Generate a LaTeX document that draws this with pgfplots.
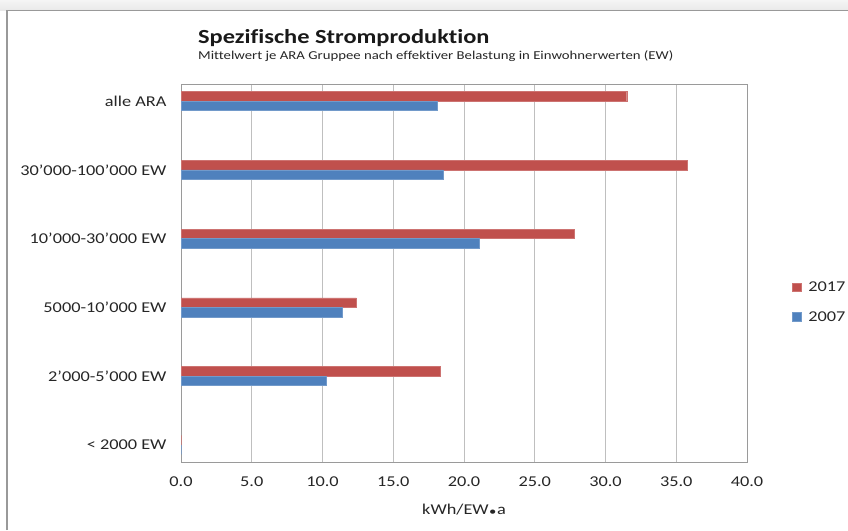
\documentclass[border=0pt]{standalone}
\usepackage{fontspec}
\setmainfont{Carlito}[FakeStretch=1.22,Ligatures=NoCommon]
\usepackage{pgfplots}
\pgfplotsset{compat=1.18}
\definecolor{exred}{HTML}{C0504D}
\definecolor{exblue}{HTML}{4F81BD}
\definecolor{gridg}{HTML}{BFBFBF}
\definecolor{axg}{HTML}{9A9A9A}
\begin{document}
\begin{tikzpicture}[x=1pt,y=1pt]
\path[use as bounding box] (0,0) rectangle (848,530);
\shade[top color=gray!8,bottom color=gray!18] (0,519) rectangle (848,530);
\draw[gray!80,line width=1.2pt] (7,0) -- (7,519.5) -- (848,519.5);
\node[anchor=base west,inner sep=0,font=\bfseries\fontsize{20}{23}\selectfont,text=black!90] at (198,486) {Spezifische Stromproduktion};
\node[anchor=base west,inner sep=0,font=\fontsize{12.1}{14}\selectfont,text=black!85] at (198,470) {Mittelwert je ARA Gruppee nach effektiver Belastung in Einwohnerwerten (EW)};
\begin{axis}[
  at={(181pt,68pt)}, anchor=south west,
  width=566pt, height=378pt, scale only axis,
  xmin=0, xmax=40, ymin=-0.25, ymax=5.25,
  xtick={0,5,...,40},
  xticklabel={\pgfmathprintnumber[fixed,fixed zerofill,precision=1]{\tick}},
  /pgf/number format/assume math mode=true,
  ytick={0,1,2,3,4,5},
  yticklabels={{< 2000 EW},{2'000-5'000 EW},{5000-10'000 EW},{10'000-30'000 EW},{30'000-100'000 EW},{alle ARA}},
  major tick length=0pt,
  xmajorgrids, grid style={gridg,line width=0.9pt},
  axis line style={axg,line width=0.9pt},
  tick label style={font=\fontsize{15}{17}\selectfont,text=black!85},
  xticklabel style={yshift=-11pt},
  yticklabel style={xshift=-11pt},
  xlabel={kWh/EW\kern0.5pt\raisebox{-0.5pt}{\scalebox{0.8}{•}}\kern0.5pt a},
  xlabel style={font=\fontsize{15}{17}\selectfont,text=black!85,yshift=-11pt},
  xbar, bar width=9.5pt,
  legend style={at={(axis description cs:1.080,0.423)},anchor=west,draw=none,fill=none,
    font=\fontsize{15}{17}\selectfont,text=black!85,row sep=14.5pt,inner sep=0pt},
  legend cell align=left,
  legend image code/.code={\fill[#1] (0pt,-4pt) rectangle (8.5pt,4.5pt); \path (13.5pt,0pt);},
]
\addplot[fill=exred,draw=exred!80!white,bar shift=4.75pt] coordinates {
 (31.5,5) (35.8,4) (27.8,3) (12.4,2) (18.3,1) (0,0)};
\addlegendentry{2017}
\addplot[fill=exblue,draw=exblue!80!white,bar shift=-4.75pt] coordinates {
 (18.1,5) (18.5,4) (21.1,3) (11.4,2) (10.25,1) (0,0)};
\addlegendentry{2007}
\end{axis}
\end{tikzpicture}
\end{document}
